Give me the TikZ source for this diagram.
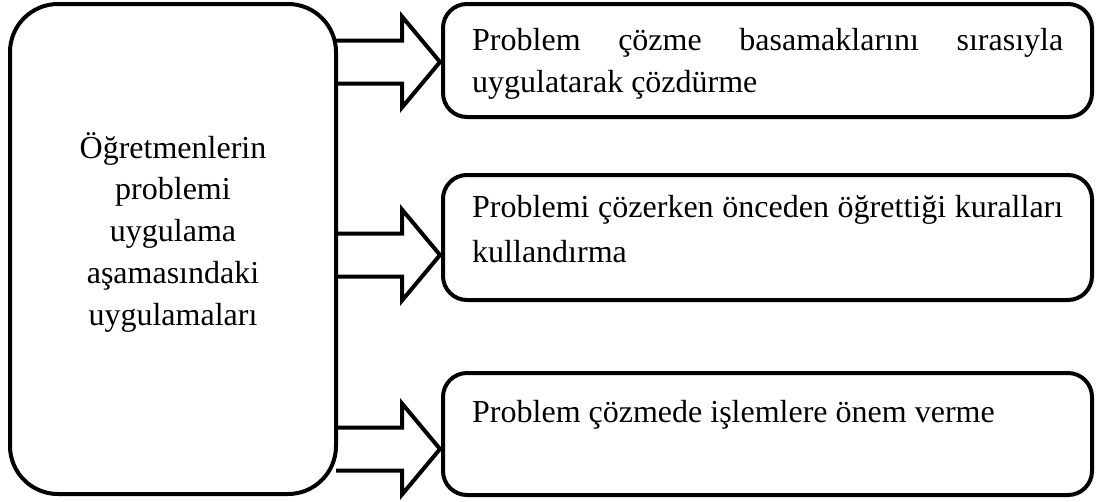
\documentclass[tikz,border=0pt]{standalone}
\usepackage{fontspec}
\setmainfont{Liberation Serif}
\usetikzlibrary{calc}
\tolerance=10000
\hyphenpenalty=10000
\newcommand\blockarrow[3]{%
  \draw[arrowline] ($(#1.east |- 0,#3)+(0,-21.5)$) -- ++(66,0) -- ++(0,-24)
    -- ($(#2.west |- 0,#3)+(-3,0)$)
    -- ($(#1.east |- 0,#3)+(66,45.5)$) -- ++(0,-24) -- ++(-66,0);}
\begin{document}
\begin{tikzpicture}[x=1pt,y=-1pt,
  box/.style={draw, line width=4pt, outer sep=0pt, inner sep=0pt},
  bigbox/.style={box, rounded corners=48pt, minimum width=326pt, minimum height=490pt},
  sidebox/.style={box, rounded corners=24pt, minimum width=649pt},
  txt/.style={inner sep=0pt, font=\fontsize{32}{42}\selectfont, text width=591pt, align=justify, anchor=base west},
  lefttxt/.style={inner sep=0pt, font=\fontsize{32}{41.75}\selectfont, text width=300pt, align=center, anchor=base},
  arrowline/.style={draw, line width=4pt, line join=miter}]
\useasboundingbox (0,0) rectangle (1099,501);
\node[bigbox] (L) at (173,249) {};
\node[lefttxt] (Lt) at (173,158) {Öğretmenlerin\\ problemi\\ uygulama\\ aşamasındaki\\ uygulamaları};
\node[sidebox, minimum height=113pt] (B1) at (767.5,60.5) {};
\node[sidebox, minimum height=125pt] (B2) at (767.5,237.5) {};
\node[sidebox, minimum height=122pt] (B3) at (767.5,434) {};
\node[txt] (T1) at (472,50) {Problem çözme basamaklarını sırasıyla\linebreak uygulatarak çözdürme};
\node[txt, font=\fontsize{32}{45}\selectfont] (T2) at (472,217) {Problemi çözerken önceden öğrettiği kuralları\linebreak kullandırma};
\node[txt] (T3) at (472,422) {Problem çözmede işlemlere önem verme};
\blockarrow{L}{B1}{62}
\blockarrow{L}{B2}{255}
\blockarrow{L}{B3}{449}
\end{tikzpicture}
\end{document}
